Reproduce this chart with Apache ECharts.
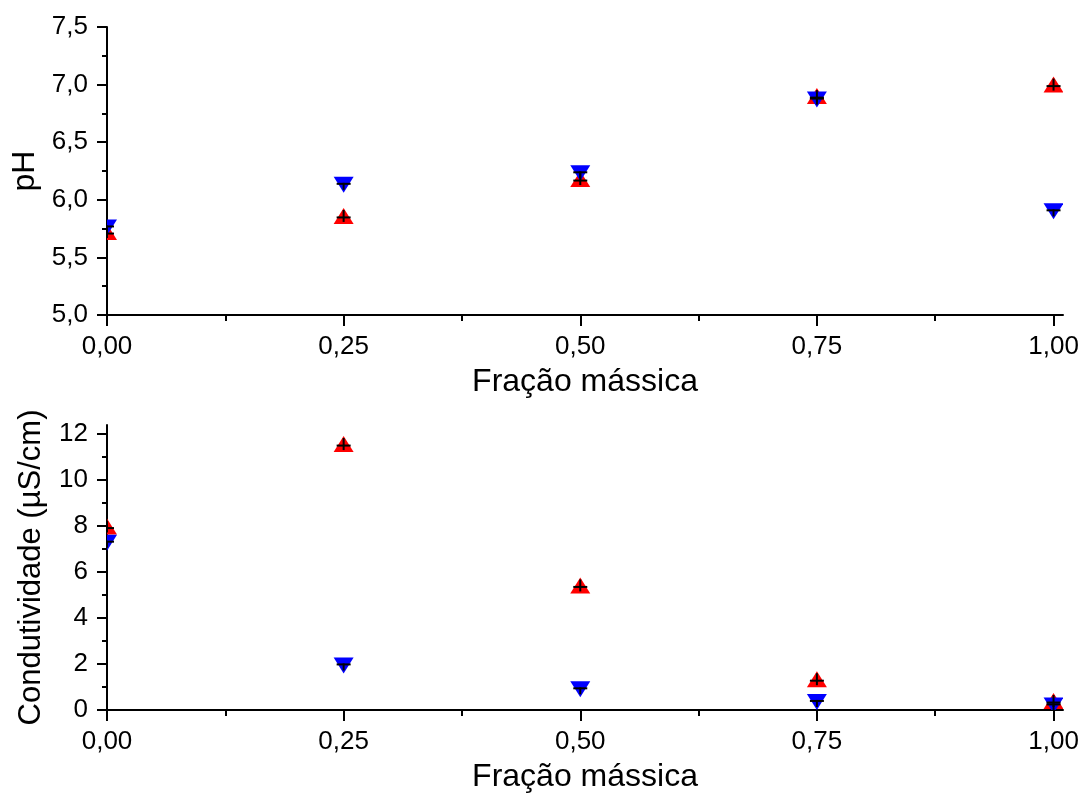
<!DOCTYPE html>
<html>
<head>
<meta charset="utf-8">
<script src="https://cdn.jsdelivr.net/npm/echarts@6/dist/echarts.min.js"></script>
<style>
html,body{margin:0;padding:0;background:#fff;}
#chart{width:1083px;height:794px;}
</style>
</head>
<body>
<div id="chart"></div>
<script>
// ---- data ----
const fractions = [0, 0.25, 0.5, 0.75, 1.0];
const phRed = [5.72, 5.86, 6.18, 6.90, 7.00];
const phBlue = [5.76, 6.13, 6.23, 6.87, 5.90];
const condRed = [7.98, 11.57, 5.42, 1.34, 0.39];
const condBlue = [7.28, 1.94, 0.90, 0.35, 0.20];
const xMajorTicks = [0, 0.25, 0.5, 0.75, 1.0];
const xMinorTicks = [0.125, 0.375, 0.625, 0.875];
const phMajorTicks = [5.0, 5.5, 6.0, 6.5, 7.0, 7.5];
const phMinorTicks = [5.25, 5.75, 6.25, 6.75, 7.25];
const condMajorTicks = [0, 2, 4, 6, 8, 10, 12];
const condMinorTicks = [1, 3, 5, 7, 9, 11];
const xTitle = 'Fração mássica';
const phTitle = 'pH';
const condTitle = 'Condutividade (µS/cm)';

const FONT = 'Liberation Sans';
const pairs = (xs, ys) => xs.map((x, i) => [x, ys[i]]);

function triRender(up, color) {
  return function (params, api) {
    const p = api.coord([api.value(0), api.value(1)]);
    const hw = 10, hh = 8;
    const pts = up
      ? [[p[0] - hw, p[1] + hh], [p[0] + hw, p[1] + hh], [p[0], p[1] - hh]]
      : [[p[0] - hw, p[1] - hh], [p[0] + hw, p[1] - hh], [p[0], p[1] + hh]];
    return { type: 'polygon', shape: { points: pts }, style: { fill: color } };
  };
}
function crossRender(up) {
  return function (params, api) {
    const p = api.coord([api.value(0), api.value(1)]);
    const st = { stroke: '#000', lineWidth: 2 };
    const capY = up ? p[1] + 1.5 : p[1] - 1;
    const v1 = up ? p[1] - 6 : p[1] - 2;
    const v2 = up ? p[1] + 6 : p[1] + 5;
    return {
      type: 'group',
      children: [
        { type: 'line', shape: { x1: p[0], y1: v1, x2: p[0], y2: v2 }, style: st },
        { type: 'line', shape: { x1: p[0] - 7, y1: capY, x2: p[0] + 7, y2: capY }, style: st }
      ]
    };
  };
}

const labelStyle = { color: '#000', fontFamily: FONT, fontSize: 26 };
const lineStyle = { color: '#000', width: 2 };

function mainX(grid, name) {
  return {
    gridIndex: grid, type: 'value', min: 0, max: 1.01, position: 'bottom',
    axisLine: { show: true, onZero: false, lineStyle: lineStyle },
    axisTick: { show: true, customValues: xMajorTicks, length: 11, lineStyle: lineStyle },
    axisLabel: Object.assign({ customValues: xMajorTicks, margin: 19,
      formatter: v => v.toFixed(2).replace('.', ',') }, labelStyle),
    splitLine: { show: false },
    name: name, nameLocation: 'middle', nameGap: 51,
    nameTextStyle: { color: '#000', fontFamily: FONT, fontSize: 32 }
  };
}
function minorX(grid) {
  return {
    gridIndex: grid, type: 'value', min: 0, max: 1.01, position: 'bottom', offset: 0,
    axisLine: { show: false, onZero: false },
    axisTick: { show: true, customValues: xMinorTicks, length: 6, lineStyle: lineStyle },
    axisLabel: { show: false }, splitLine: { show: false }
  };
}
function mainY(grid, min, max, major, dec, name, gap, fs) {
  return {
    gridIndex: grid, type: 'value', min: min, max: max, position: 'left',
    axisLine: { show: true, onZero: false, lineStyle: lineStyle },
    axisTick: { show: true, customValues: major, length: 10, lineStyle: lineStyle },
    axisLabel: Object.assign({ customValues: major, margin: 19,
      formatter: v => v.toFixed(dec).replace('.', ',') }, labelStyle),
    splitLine: { show: false },
    name: name, nameLocation: 'middle', nameGap: gap, nameRotate: 90,
    nameTextStyle: { color: '#000', fontFamily: FONT, fontSize: fs }
  };
}
function minorY(grid, min, max, minor) {
  return {
    gridIndex: grid, type: 'value', min: min, max: max, position: 'left', offset: 0,
    axisLine: { show: false, onZero: false },
    axisTick: { show: true, customValues: minor, length: 5, lineStyle: lineStyle },
    axisLabel: { show: false }, splitLine: { show: false }
  };
}

const option = {
  backgroundColor: '#fff',
  animation: false,
  grid: [
    { left: 107, right: 20, top: 27, height: 288 },
    { left: 107, right: 20, top: 425, height: 287 }
  ],
  xAxis: [mainX(0, xTitle), minorX(0), mainX(1, xTitle), minorX(1)],
  yAxis: [
    mainY(0, 5, 7.5, phMajorTicks, 1, phTitle, 62, 32),
    minorY(0, 5, 7.5, phMinorTicks),
    mainY(1, 0, 12.4, condMajorTicks, 0, condTitle, 60, 31),
    minorY(1, 0, 12.4, condMinorTicks)
  ],
  series: [
    { type: 'custom', xAxisIndex: 0, yAxisIndex: 0, clip: true, data: pairs(fractions, phRed), renderItem: triRender(true, '#ff0000') },
    { type: 'custom', xAxisIndex: 0, yAxisIndex: 0, clip: true, data: pairs(fractions, phBlue), renderItem: triRender(false, '#0000ff') },
    { type: 'custom', xAxisIndex: 0, yAxisIndex: 0, clip: true, data: pairs(fractions, phRed), renderItem: crossRender(true) },
    { type: 'custom', xAxisIndex: 0, yAxisIndex: 0, clip: true, data: pairs(fractions, phBlue), renderItem: crossRender(false) },
    { type: 'custom', xAxisIndex: 2, yAxisIndex: 2, clip: true, data: pairs(fractions, condRed), renderItem: triRender(true, '#ff0000') },
    { type: 'custom', xAxisIndex: 2, yAxisIndex: 2, clip: true, data: pairs(fractions, condBlue), renderItem: triRender(false, '#0000ff') },
    { type: 'custom', xAxisIndex: 2, yAxisIndex: 2, clip: true, data: pairs(fractions, condRed), renderItem: crossRender(true) },
    { type: 'custom', xAxisIndex: 2, yAxisIndex: 2, clip: true, data: pairs(fractions, condBlue), renderItem: crossRender(false) }
  ]
};

const chart = echarts.init(document.getElementById('chart'), null, { renderer: 'canvas' });
chart.setOption(option);
</script>
</body>
</html>
